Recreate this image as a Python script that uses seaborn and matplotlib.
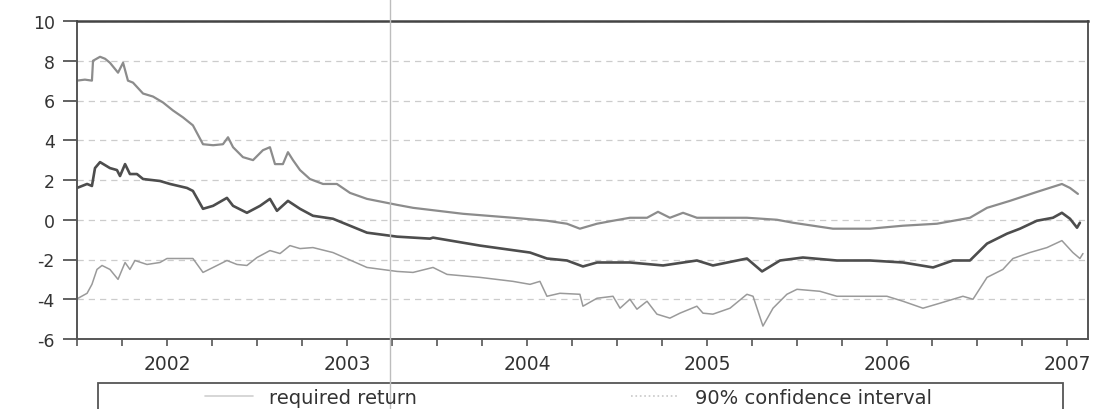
import matplotlib
matplotlib.use("Agg")
import matplotlib.pyplot as plt
from matplotlib.patches import Rectangle
from matplotlib.lines import Line2D
import seaborn as sns
import pandas as pd

# ---------------- data (decimal years) ----------------
upper_t = [2001.500, 2001.544, 2001.583, 2001.589, 2001.628, 2001.656, 2001.683, 2001.728,
           2001.756, 2001.783, 2001.811, 2001.867, 2001.922, 2001.978, 2002.033, 2002.089,
           2002.144, 2002.200, 2002.256, 2002.311, 2002.339, 2002.367, 2002.422, 2002.478,
           2002.533, 2002.572, 2002.600, 2002.644, 2002.672, 2002.700, 2002.739, 2002.794,
           2002.867, 2002.944, 2003.017, 2003.111, 2003.278, 2003.367, 2003.644, 2003.922,
           2004.111, 2004.222, 2004.294, 2004.389, 2004.478, 2004.572, 2004.667, 2004.728,
           2004.794, 2004.867, 2004.944, 2005.033, 2005.222, 2005.389, 2005.478, 2005.700,
           2005.906, 2006.089, 2006.278, 2006.461, 2006.556, 2006.683, 2006.833, 2006.972,
           2007.017, 2007.061]
upper_v = [7.0, 7.05, 7.0, 8.0, 8.2, 8.1, 7.9, 7.4,
           7.9, 7.0, 6.9, 6.35, 6.2, 5.9, 5.5, 5.15,
           4.75, 3.8, 3.75, 3.8, 4.15, 3.65, 3.15, 3.0,
           3.5, 3.65, 2.8, 2.8, 3.4, 3.0, 2.5, 2.05,
           1.8, 1.8, 1.35, 1.05, 0.75, 0.6, 0.3, 0.1,
           -0.05, -0.2, -0.45, -0.2, -0.05, 0.1, 0.1, 0.4,
           0.1, 0.35, 0.1, 0.1, 0.1, 0.0, -0.15, -0.45,
           -0.45, -0.3, -0.2, 0.1, 0.6, 0.95, 1.4, 1.8,
           1.6, 1.3]

mid_t = [2001.500, 2001.556, 2001.583, 2001.600, 2001.628, 2001.683, 2001.722, 2001.739,
         2001.767, 2001.794, 2001.833, 2001.867, 2001.961, 2002.017, 2002.111, 2002.144,
         2002.200, 2002.256, 2002.333, 2002.367, 2002.444, 2002.517, 2002.572, 2002.611,
         2002.672, 2002.739, 2002.811, 2002.922, 2003.111, 2003.278, 2003.461, 2003.478,
         2003.739, 2004.017, 2004.111, 2004.222, 2004.311, 2004.389, 2004.572, 2004.756,
         2004.944, 2005.033, 2005.222, 2005.306, 2005.406, 2005.533, 2005.722, 2005.906,
         2006.089, 2006.256, 2006.367, 2006.461, 2006.556, 2006.667, 2006.739, 2006.833,
         2006.922, 2006.972, 2007.017, 2007.056, 2007.072]
mid_v = [1.6, 1.8, 1.7, 2.6, 2.9, 2.6, 2.5, 2.2,
         2.8, 2.3, 2.3, 2.05, 1.95, 1.8, 1.6, 1.45,
         0.55, 0.7, 1.1, 0.7, 0.35, 0.7, 1.05, 0.45,
         0.95, 0.55, 0.2, 0.05, -0.65, -0.85, -0.95, -0.9,
         -1.3, -1.65, -1.95, -2.05, -2.35, -2.15, -2.15, -2.3,
         -2.05, -2.3, -1.95, -2.6, -2.05, -1.9, -2.05, -2.05,
         -2.15, -2.4, -2.05, -2.05, -1.2, -0.7, -0.45, -0.05,
         0.1, 0.35, 0.05, -0.4, -0.15]

lower_t = [2001.506, 2001.556, 2001.583, 2001.611, 2001.639, 2001.683, 2001.728, 2001.767,
           2001.794, 2001.822, 2001.889, 2001.961, 2002.000, 2002.144, 2002.200, 2002.256,
           2002.333, 2002.389, 2002.444, 2002.500, 2002.572, 2002.628, 2002.683, 2002.739,
           2002.811, 2002.922, 2003.111, 2003.278, 2003.367, 2003.478, 2003.556, 2003.739,
           2003.922, 2004.017, 2004.072, 2004.111, 2004.183, 2004.294, 2004.311, 2004.389,
           2004.478, 2004.517, 2004.572, 2004.611, 2004.667, 2004.722, 2004.794, 2004.850,
           2004.944, 2004.978, 2005.033, 2005.128, 2005.222, 2005.256, 2005.311, 2005.367,
           2005.444, 2005.500, 2005.628, 2005.722, 2005.867, 2006.000, 2006.089, 2006.200,
           2006.294, 2006.422, 2006.478, 2006.556, 2006.644, 2006.700, 2006.794, 2006.889,
           2006.972, 2007.033, 2007.072, 2007.089]
lower_v = [-3.95, -3.7, -3.25, -2.5, -2.3, -2.5, -3.0, -2.15,
           -2.5, -2.05, -2.25, -2.15, -1.95, -1.95, -2.65, -2.4,
           -2.05, -2.25, -2.3, -1.9, -1.55, -1.7, -1.3, -1.45,
           -1.4, -1.65, -2.4, -2.6, -2.65, -2.4, -2.75, -2.9,
           -3.1, -3.25, -3.1, -3.85, -3.7, -3.75, -4.35, -3.95,
           -3.85, -4.45, -4.0, -4.5, -4.1, -4.75, -4.95, -4.7,
           -4.35, -4.7, -4.75, -4.45, -3.75, -3.85, -5.35, -4.45,
           -3.75, -3.5, -3.6, -3.85, -3.85, -3.85, -4.1, -4.45,
           -4.2, -3.85, -4.0, -2.9, -2.5, -1.95, -1.65, -1.4,
           -1.05, -1.65, -1.95, -1.7]

year_labels = ["2002", "2003", "2004", "2005", "2006", "2007"]
year_ticks = [2002, 2003, 2004, 2005, 2006, 2007]
y_ticks = [-6, -4, -2, 0, 2, 4, 6, 8, 10]
y_labels = ["-6", "-4", "-2", "0", "2", "4", "6", "8", "10"]
legend_labels = ["required return", "90% confidence interval"]

# ---------------- figure ----------------
sns.set_theme(style="white")
plt.rcParams["font.family"] = ["DejaVu Sans"]

fig = plt.figure(figsize=(11.1, 4.1), dpi=100)
ax = fig.add_axes([77 / 1110, 1 - 340 / 410, (1088 - 77) / 1110, (340 - 22) / 410])

df_mid = pd.DataFrame({"t": mid_t, "v": mid_v})
df_up = pd.DataFrame({"t": upper_t, "v": upper_v})
df_lo = pd.DataFrame({"t": lower_t, "v": lower_v})

sns.lineplot(data=df_mid, x="t", y="v", ax=ax, color="#4d4d4d", lw=1.9,
             estimator=None, sort=False)
sns.lineplot(data=df_up, x="t", y="v", ax=ax, color="#8c8c8c", lw=1.6,
             estimator=None, sort=False)
sns.lineplot(data=df_lo, x="t", y="v", ax=ax, color="#9a9a9a", lw=1.1,
             estimator=None, sort=False)

ax.set_xlim(2001.5, 2007.117)
ax.set_ylim(-6, 10)
ax.set_xlabel("")
ax.set_ylabel("")

ax.set_yticks(y_ticks)
ax.set_yticklabels(y_labels)
ax.set_xticks(year_ticks)
ax.set_xticklabels(year_labels)
quarters = [y + q for y in [2001] + year_ticks for q in (0.0, 0.25, 0.5, 0.75)]
ax.set_xticks([q for q in quarters if 2001.5 <= q <= 2007.117 and q not in year_ticks], minor=True)

ax.tick_params(axis="y", direction="out", length=10, width=1.3, color="#555555",
               labelsize=12.5, labelcolor="#333333", pad=6, left=True)
ax.tick_params(axis="x", which="both", direction="out", length=5, width=1.2,
               color="#555555", labelsize=13.5, labelcolor="#333333", pad=6, bottom=True)

ax.yaxis.grid(True, linestyle=(0, (5, 4)), color="#cccccc", lw=0.9)
ax.xaxis.grid(False)

for side in ["left", "bottom", "top", "right"]:
    ax.spines[side].set_visible(True)
    ax.spines[side].set_color("#555555")
    ax.spines[side].set_linewidth(1.4)
ax.spines["top"].set_color("#444444")
ax.spines["top"].set_linewidth(1.8)

# legend (proxy handles so the plotted lines keep their own style)
handles = [Line2D([], [], color="#d0d0d0", lw=1.2),
           Line2D([], [], color="#c8c8c8", lw=1.2, linestyle=":")]
fig.legend(handles, legend_labels, loc="center", bbox_to_anchor=(0.512, 0.028), ncol=2,
           frameon=False, fontsize=14, handlelength=2.5, handletextpad=0.8,
           columnspacing=11.0, labelcolor="#333333")
fig.patches.append(Rectangle((98 / 1110, -0.05), (1063 - 98) / 1110, 0.05 + 1 - 384 / 410,
                             transform=fig.transFigure, fill=False,
                             edgecolor="#555555", lw=1.3))

# faint vertical scan line
fig.lines.append(Line2D([390 / 1110, 390 / 1110], [0, 1], transform=fig.transFigure,
                        color="#bdbdbd", lw=1.0))

fig.savefig("out.png", dpi=100)
